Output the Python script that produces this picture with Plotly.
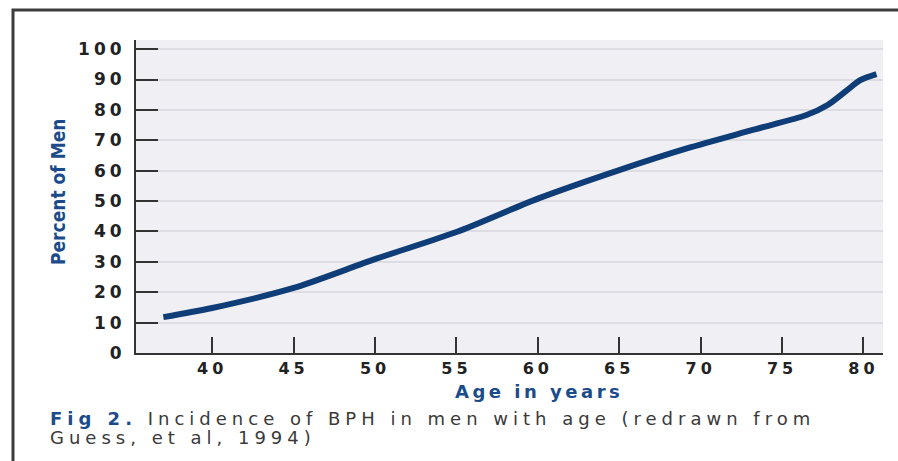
import plotly.graph_objects as go

# ---- data ----
ages = [37, 40, 45, 50, 55, 60, 65, 69.2, 73.2, 76.5, 77.8, 79.0, 79.8, 80.8]
percent_men = [11.8, 14.8, 21.4, 30.9, 39.8, 50.8, 60.2, 67.4, 73.4, 78.3, 81.6, 86.5, 89.8, 91.8]
x_ticks = [40, 45, 50, 55, 60, 65, 70, 75, 80]
y_ticks = [0, 10, 20, 30, 40, 50, 60, 70, 80, 90, 100]

BLUE = "#1c4b8c"
LINE = "#0f3d77"
TICKFONT = "DejaVu Sans, Verdana, sans-serif"

def spaced(v, sp):
    return f'<span style="letter-spacing:{sp}px">{v}</span>'

fig = go.Figure()
fig.add_trace(go.Scatter(
    x=ages, y=percent_men, mode="lines",
    line=dict(color=LINE, width=6, shape="spline", smoothing=0.8),
    hoverinfo="skip", showlegend=False,
))

W, H = 898, 461
L, R, T, B = 136, 15, 40, 108
pw, ph = W - L - R, H - T - B

def px(x):
    return (x - L) / pw

def py(y):
    return (H - B - y) / ph

fig.update_layout(
    width=W, height=H,
    margin=dict(l=L, r=R, t=T, b=B, autoexpand=False),
    paper_bgcolor="white",
    plot_bgcolor="#f0f0f4",
    font=dict(family=TICKFONT, color="#222"),
    xaxis=dict(
        range=[35.32, 81.2],
        tickmode="array", tickvals=x_ticks, ticktext=[spaced(v, 4) for v in x_ticks],
        ticks="inside", ticklen=16, tickwidth=2, tickcolor="#333",
        showline=True, linecolor="#333", linewidth=2,
        showgrid=False, zeroline=False,
        tickfont=dict(size=16, color="#222", weight="bold", family=TICKFONT),
        ticklabelstandoff=0,
    ),
    yaxis=dict(
        range=[0, 103],
        tickmode="array", tickvals=y_ticks, ticktext=[spaced(v, 4) for v in y_ticks],
        ticks="inside", ticklen=22, tickwidth=2, tickcolor="#333",
        showline=True, linecolor="#333", linewidth=2,
        showgrid=True, gridcolor="#dcdce2", gridwidth=2,
        zeroline=False,
        tickfont=dict(size=17, color="#222", weight="bold", family=TICKFONT),
        ticklabelstandoff=5,
    ),
)

# outer frame (top and left edges visible)
fig.add_shape(type="rect", xref="paper", yref="paper",
              x0=px(13), x1=px(915), y0=py(480), y1=py(10),
              line=dict(color="#3c3c3c", width=3), fillcolor="rgba(0,0,0,0)", layer="above")

# y-axis title
fig.add_annotation(xref="paper", yref="paper", x=px(58), y=py(192),
                   text="<b>Percent of Men</b>", textangle=-90, showarrow=False,
                   font=dict(family="DejaVu Sans Condensed, Liberation Sans Narrow, sans-serif",
                             size=19, color=BLUE),
                   xanchor="center", yanchor="middle")

# x-axis title
fig.add_annotation(xref="paper", yref="paper", x=px(539), y=py(391),
                   text='<b><span style="letter-spacing:3.5px">Age in years</span></b>', showarrow=False,
                   font=dict(family=TICKFONT, size=18, color=BLUE),
                   xanchor="center", yanchor="middle")

# caption
CAP_SP = "letter-spacing:5px"
fig.add_annotation(xref="paper", yref="paper", x=px(48), y=py(418),
                   text=(f'<span style="{CAP_SP}"><b style="color:{BLUE}">Fig 2.</b> '
                         'Incidence of BPH in men with age (redrawn from</span>'),
                   showarrow=False, align="left",
                   font=dict(family=TICKFONT, size=18, color="#3a3a3a"),
                   xanchor="left", yanchor="middle")
fig.add_annotation(xref="paper", yref="paper", x=px(48), y=py(438),
                   text=f'<span style="{CAP_SP}">Guess, et al, 1994)</span>',
                   showarrow=False, align="left",
                   font=dict(family=TICKFONT, size=18, color="#3a3a3a"),
                   xanchor="left", yanchor="middle")

fig.write_html("out.html", config={"displayModeBar": False},
               post_script="document.body.style.margin='0';document.body.style.overflow='hidden';")
